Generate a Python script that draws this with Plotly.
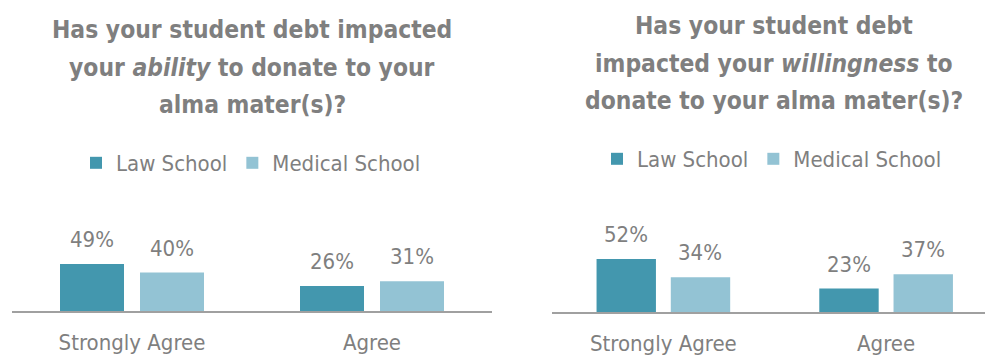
import plotly.graph_objects as go

categories = ["Strongly Agree", "Agree"]
series_names = ["Law School", "Medical School"]
ability_law = [49, 26]
ability_med = [40, 31]
willing_law = [52, 23]
willing_med = [34, 37]

title_left = ["Has your student debt impacted",
              "your <i>ability</i> to donate to your",
              "alma mater(s)?"]
title_right = ["Has your student debt",
               "impacted your <i>willingness</i> to",
               "donate to your alma mater(s)?"]

W, H = 985, 358
FONT = "DejaVu Sans Condensed, Roboto, sans-serif"
FS = 22
FS_TITLE = 24.4
GRAY = "#7f7f7f"
LAW_C = "#4397ae"
MED_C = "#93c3d4"
BARGAP = 1 / 3

fig = go.Figure()

panels = [
    ("x", "y", "legend", ability_law, ability_med),
    ("x2", "y2", "legend2", willing_law, willing_med),
]
annotations = []
for xa, ya, lg, law, med in panels:
    for name, vals, col, sign in [(series_names[0], law, LAW_C, -1),
                                  (series_names[1], med, MED_C, 1)]:
        fig.add_trace(go.Bar(
            x=categories, y=vals, name=name, marker_color=col,
            marker_line_width=0, xaxis=xa, yaxis=ya, legend=lg,
            hoverinfo="skip"))
        off = sign * (1 - BARGAP) / 4
        for i, v in enumerate(vals):
            annotations.append(dict(
                x=i + off, y=v, xref=xa, yref=ya, text=f"{v}%",
                showarrow=False, yanchor="bottom", yshift=10,
                font=dict(family=FONT, size=FS, color=GRAY)))

for lines, cx, ys in [(title_left, 252, [30, 67, 104]),
                      (title_right, 774, [26, 63, 100])]:
    for line, yy in zip(lines, ys):
        annotations.append(dict(
            x=cx / W, y=1 - yy / H, xref="paper", yref="paper",
            text=f"<b>{line}</b>", showarrow=False,
            xanchor="center", yanchor="middle",
            font=dict(family=FONT, size=FS_TITLE, color=GRAY)))

axis_common = dict(type="category", showline=True, linecolor="#a0a0a0",
                   linewidth=2, ticks="", showgrid=False, zeroline=False,
                   ticklabelstandoff=11,
                   tickfont=dict(family=FONT, size=FS, color=GRAY),
                   fixedrange=True)

legend_common = dict(orientation="h", xanchor="center", yanchor="middle",
                     font=dict(family=FONT, size=FS, color=GRAY),
                     bgcolor="rgba(0,0,0,0)", itemclick=False,
                     itemdoubleclick=False)

fig.update_layout(
    width=W, height=H,
    margin=dict(l=0, r=0, t=0, b=0),
    paper_bgcolor="white", plot_bgcolor="white",
    barmode="group", bargap=BARGAP, bargroupgap=0.2,
    showlegend=True,
    xaxis=dict(domain=[12 / W, 492 / W], range=[-0.5, 1.5], anchor="y",
               **axis_common),
    yaxis=dict(domain=[(H - 311) / H, (H - 211) / H], range=[0, 104],
               visible=False, fixedrange=True),
    xaxis2=dict(domain=[552 / W, 1.0], range=[-0.5, 1.444], anchor="y2",
                **axis_common),
    yaxis2=dict(domain=[(H - 312) / H, (H - 212) / H], range=[0, 98],
                visible=False, fixedrange=True),
    legend=dict(x=251 / W, y=1 - 163 / H, **legend_common),
    legend2=dict(x=772 / W, y=1 - 159 / H, **legend_common),
    annotations=annotations,
)

fig.write_html("out.html",
               config={"displayModeBar": False, "staticPlot": True},
               post_script="document.body.style.margin='0';"
                           "document.body.style.overflow='hidden';")
